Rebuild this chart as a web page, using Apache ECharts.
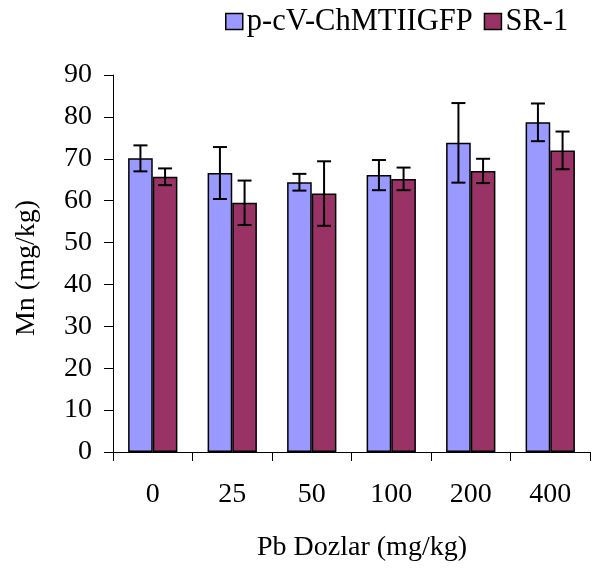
<!DOCTYPE html>
<html>
<head>
<meta charset="utf-8">
<script src="https://cdn.jsdelivr.net/npm/echarts@6/dist/echarts.min.js"></script>
<style>html,body{margin:0;padding:0;background:#fff}#c{width:600px;height:575px}</style>
</head>
<body>
<div id="c"></div>
<script>
var categories = ['0', '25', '50', '100', '200', '400'];
var seriesNames = ['p-cV-ChMTIIGFP', 'SR-1'];
var meansA = [70.1, 66.6, 64.4, 66.1, 73.8, 78.7];
var errA   = [3.1, 6.2, 2.0, 3.6, 9.5, 4.5];
var meansB = [65.7, 59.5, 61.7, 65.2, 67.1, 72.0];
var errB   = [2.0, 5.3, 7.7, 2.7, 2.9, 4.5];
var yTicks = [0, 10, 20, 30, 40, 50, 60, 70, 80, 90];

var FONT = 'Liberation Serif';
var colors = ['#9999FF', '#993366'];
var catGapFrac = 0.38;

function errData(means, errs, idx) {
  return means.map(function (m, i) { return [i, m - errs[i], m + errs[i], idx]; });
}

function renderErr(params, api) {
  var i = api.value(0), lo = api.value(1), hi = api.value(2), s = api.value(3);
  var band = api.size([1, 0])[0];
  var barW = band * (1 - catGapFrac) / 2;
  var off = (s === 0 ? -1 : 1) * barW / 2;
  var pHi = api.coord([i, hi]);
  var pLo = api.coord([i, lo]);
  var x = pHi[0] + off;
  var cap = 7;
  var st = { stroke: '#000', lineWidth: 2 };
  return {
    type: 'group',
    children: [
      { type: 'line', shape: { x1: x, y1: pHi[1], x2: x, y2: pLo[1] }, style: st },
      { type: 'line', shape: { x1: x - cap, y1: pHi[1], x2: x + cap, y2: pHi[1] }, style: st },
      { type: 'line', shape: { x1: x - cap, y1: pLo[1], x2: x + cap, y2: pLo[1] }, style: st }
    ]
  };
}

var chart = echarts.init(document.getElementById('c'), null, { renderer: 'canvas' });
chart.setOption({
  animation: false,
  textStyle: { fontFamily: FONT, color: '#000' },
  legend: {
    data: seriesNames,
    left: 220, top: 1,
    itemWidth: 17, itemHeight: 16, itemGap: 11,
    icon: 'rect',
    textStyle: { fontFamily: FONT, fontSize: 30.5, color: '#000', padding: [0, 0, 0, -1] },
    itemStyle: { borderColor: '#000', borderWidth: 1.5 }
  },
  grid: { left: 113, right: 10, top: 75, bottom: 123, containLabel: false },
  xAxis: {
    type: 'category',
    data: categories,
    boundaryGap: true,
    axisLine: { lineStyle: { color: '#000', width: 1 } },
    axisTick: { show: true, length: 9, inside: false, lineStyle: { color: '#000' } },
    axisLabel: { fontFamily: FONT, fontSize: 28, color: '#000', margin: 29 },
    splitLine: { show: false }
  },
  yAxis: {
    type: 'value',
    min: 0, max: 90, interval: 10,
    axisLine: { show: true, lineStyle: { color: '#000', width: 1 } },
    axisTick: { show: true, length: 9, lineStyle: { color: '#000' } },
    axisLabel: { fontFamily: FONT, fontSize: 28, color: '#000', margin: 21 },
    splitLine: { show: false }
  },
  graphic: [
    { type: 'text', x: 362, y: 548, style: { text: 'Pb Dozlar (mg/kg)', font: '28px "Liberation Serif"', fill: '#000', align: 'center', verticalAlign: 'middle' } },
    { type: 'text', x: 27, y: 268, rotation: Math.PI / 2, style: { text: 'Mn (mg/kg)', font: '28px "Liberation Serif"', fill: '#000', align: 'center', verticalAlign: 'middle' } }
  ],
  series: [
    {
      name: seriesNames[0], type: 'bar', data: meansA,
      barGap: '0%', barCategoryGap: (catGapFrac * 100) + '%',
      itemStyle: { color: colors[0], borderColor: '#000', borderWidth: 1.5 }
    },
    {
      name: seriesNames[1], type: 'bar', data: meansB,
      barGap: '0%', barCategoryGap: (catGapFrac * 100) + '%',
      itemStyle: { color: colors[1], borderColor: '#000', borderWidth: 1.5 }
    },
    { type: 'custom', renderItem: renderErr, data: errData(meansA, errA, 0), encode: { x: 0, y: [1, 2] }, z: 10 },
    { type: 'custom', renderItem: renderErr, data: errData(meansB, errB, 1), encode: { x: 0, y: [1, 2] }, z: 10 }
  ]
});
</script>
</body>
</html>
